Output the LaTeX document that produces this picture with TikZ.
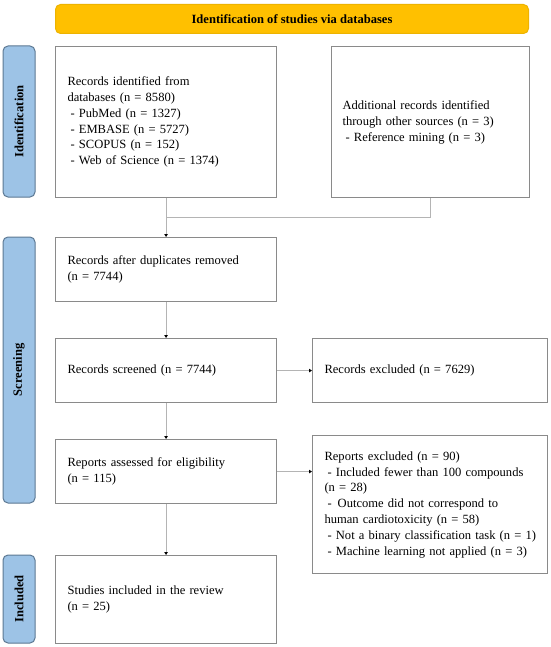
\documentclass[tikz,border=0pt]{standalone}
\usepackage{fontspec}
\setmainfont{Liberation Serif}
\usetikzlibrary{arrows.meta}
\definecolor{boxgray}{HTML}{8A8A8A}
\definecolor{conngray}{HTML}{B4B4B4}
\definecolor{sidefill}{HTML}{9DC3E6}
\definecolor{sideborder}{HTML}{5C7893}
\definecolor{titlefill}{HTML}{FFC000}
\definecolor{titleborder}{HTML}{EDB300}
\newcommand{\fsz}{\fontsize{12.55pt}{15.8pt}\selectfont}
\begin{document}
\begin{tikzpicture}[x=1pt,y=-1pt,
  box/.style={draw=boxgray, line width=1.1pt, fill=white, inner xsep=12pt, inner ysep=0pt,
    align=left, anchor=north west, font=\fsz},
  side/.style={draw=sideborder, fill=sidefill, rounded corners=5pt, line width=1pt,
    inner sep=0pt, rotate=90, minimum height=32pt, font=\fsz\bfseries},
  titlebox/.style={draw=titleborder, fill=titlefill, rounded corners=5pt, line width=1pt,
    inner sep=0pt, anchor=north west, minimum width=473pt, minimum height=29pt, font=\fsz\bfseries},
  conn/.style={draw=conngray, line width=1pt},
  arr/.style={conn, -{Triangle[length=3pt,width=3.5pt,black]}}
]
\useasboundingbox (0,0) rectangle (550,647);
\fill[white] (0,0) rectangle (550,647);

\node[titlebox] (title) at (55,4) {Identification of studies via databases};

\node[side, minimum width=151pt] (s1) at (19,121.5) {Identification};
\node[side, minimum width=266pt] (s2) at (19,370) {Screening};
\node[side, minimum width=88pt] (s3) at (19,599) {Included};

\node[box, minimum width=221pt, minimum height=151pt, text width=197pt] (b1) at (55,46)
 {\begin{tabular}{@{}l@{}}Records identified from\\ databases (n = 8580)\\
 \hspace{3pt}- PubMed (n = 1327)\\ \hspace{3pt}- EMBASE (n = 5727)\\
 \hspace{3pt}- SCOPUS (n = 152)\\ \hspace{3pt}- Web of Science (n = 1374)\end{tabular}};

\node[box, minimum width=198pt, minimum height=151pt, text width=176pt, inner xsep=11pt] (b2) at (331,46)
 {\begin{tabular}{@{}l@{}}Additional records identified\\ through other sources (n = 3)\\
 \hspace{3pt}- Reference mining (n = 3)\end{tabular}};

\node[box, minimum width=221pt, minimum height=64pt, text width=197pt] (b3) at (55,237)
 {\begin{tabular}{@{}l@{}}Records after duplicates removed\\ (n = 7744)\end{tabular}};

\node[box, minimum width=221pt, minimum height=64pt, text width=197pt] (b4) at (55,338)
 {Records screened (n = 7744)};

\node[box, minimum width=221pt, minimum height=64pt, text width=197pt] (b5) at (55,439)
 {\begin{tabular}{@{}l@{}}Reports assessed for eligibility\\ (n = 115)\end{tabular}};

\node[box, minimum width=221pt, minimum height=88pt, text width=197pt] (b6) at (55,555)
 {\begin{tabular}{@{}l@{}}Studies included in the review\\ (n = 25)\end{tabular}};

\node[box, minimum width=235pt, minimum height=64pt, text width=211pt] (e1) at (312,338)
 {Records excluded (n = 7629)};

\node[box, minimum width=235pt, minimum height=138pt, text width=211pt] (e2) at (312,435)
 {\begin{tabular}{@{}l@{}}Reports excluded (n = 90)\\
 \hspace{3pt}- Included fewer than 100 compounds\\ (n = 28)\\
 \hspace{3pt}-\hspace{6pt}Outcome did not correspond to\\ human cardiotoxicity (n = 58)\\
 \hspace{3pt}- Not a binary classification task (n = 1)\\
 \hspace{3pt}- Machine learning not applied (n = 3)\end{tabular}};

\coordinate (m) at (b1.south |- 0,217);
\draw[conn] (b2.south) |- (m);
\draw[arr] (b1.south) -- (b3.north);
\draw[arr] (b3.south) -- (b4.north);
\draw[arr] (b4.south) -- (b5.north);
\draw[arr] (b5.south) -- (b6.north);
\draw[arr] (b4.east) -- (e1.west);
\draw[arr] (b5.east) -- (b5.east -| e2.west);
\end{tikzpicture}
\end{document}
